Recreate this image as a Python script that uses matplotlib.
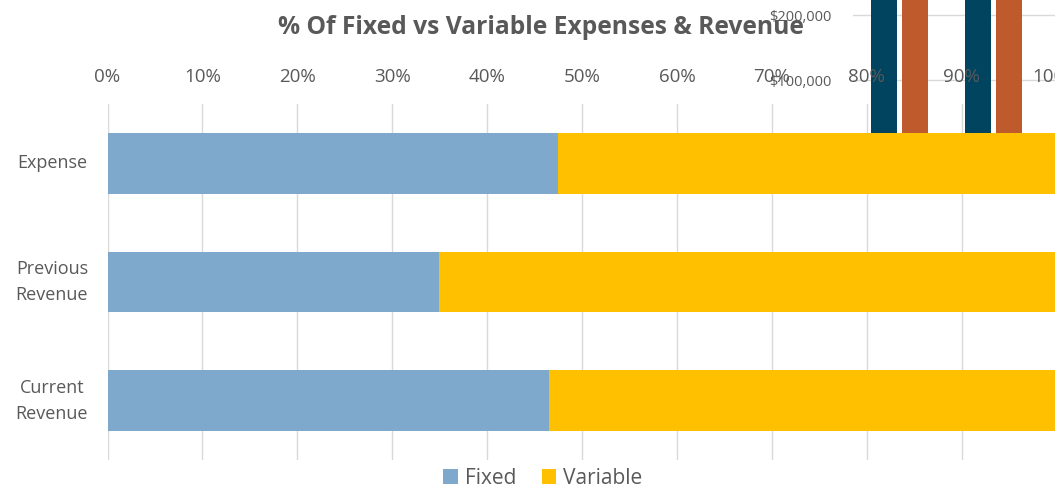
import matplotlib
matplotlib.use("Agg")
import matplotlib.pyplot as plt
from matplotlib.ticker import PercentFormatter, FuncFormatter

# Percentage split chart data
categories = ["Expense", "Previous\nRevenue", "Current\nRevenue"]
fixed_share = [0.475, 0.349, 0.465]
variable_share = [1 - v for v in fixed_share]
x_ticks = [i / 10 for i in range(11)]

# Neighbouring revenue column chart (partly visible behind)
rev_groups = ["A", "B"]
rev_series_1 = [320000, 320000]
rev_series_2 = [320000, 320000]
rev_ticks = [100000, 200000]

GRAY = "#595959"
GRID = "#D9D9D9"
BLUE = "#7FA9CC"
GOLD = "#FFC000"
NAVY = "#00445F"
RUST = "#BE5A2B"

plt.rcParams["font.family"] = ["Open Sans", "DejaVu Sans"]

W, H = 1055, 492
fig = plt.figure(figsize=(W / 100, H / 100), dpi=100)
fig.patch.set_facecolor("white")


def px_axes(left, top, right, bottom):
    return [left / W, 1 - bottom / H, (right - left) / W, (bottom - top) / H]


# Background column chart
ax2 = fig.add_axes(px_axes(853, 0, 1058.7, 145.5), zorder=0)
ax2.set_facecolor("none")
pos = list(range(len(rev_groups)))
bw = 0.28
ax2.bar([p - 0.165 for p in pos], rev_series_1, width=bw, color=NAVY, zorder=2)
ax2.bar([p + 0.165 for p in pos], rev_series_2, width=bw, color=RUST, zorder=2)
ax2.set_xlim(-0.5, 1.7)
ax2.set_ylim(0, 223800)
ax2.set_yticks(rev_ticks)
ax2.yaxis.set_major_formatter(FuncFormatter(lambda v, _: f"${v:,.0f}"))
ax2.yaxis.grid(True, color=GRID, linewidth=1)
ax2.set_axisbelow(True)
ax2.set_xticks([])
ax2.tick_params(axis="y", length=0, pad=15.5, labelsize=10.5, labelcolor=GRAY)
for s in ax2.spines.values():
    s.set_visible(False)

# Main stacked percentage bar chart
ax = fig.add_axes(px_axes(107.5, 104, 1056.5, 460), zorder=1)
ax.set_facecolor("none")
y = list(range(len(categories)))
ax.barh(y, fixed_share, height=0.51, color=BLUE, label="Fixed", zorder=2)
ax.barh(y, variable_share, left=fixed_share, height=0.51, color=GOLD,
        label="Variable", zorder=2)
ax.set_ylim(len(categories) - 0.5, -0.5)
ax.set_xlim(0, 1)
ax.set_xticks(x_ticks)
ax.xaxis.set_major_formatter(PercentFormatter(1.0, decimals=0))
ax.xaxis.tick_top()
ax.xaxis.grid(True, color=GRID, linewidth=1)
ax.set_axisbelow(True)
ax.set_yticks(y)
ax.set_yticklabels(categories, ha="center", va="center", linespacing=1.55)
ax.tick_params(axis="x", length=0, pad=13, labelsize=13.5, labelcolor=GRAY)
ax.tick_params(axis="y", length=0, pad=40, labelsize=13, labelcolor=GRAY)
for s in ax.spines.values():
    s.set_visible(False)

fig.text(541 / W, 1 - 27 / H, "% Of Fixed vs Variable Expenses & Revenue",
         ha="center", va="center", fontsize=17.7, fontweight="bold", color=GRAY)

handles, labels = ax.get_legend_handles_labels()
fig.legend(handles, labels, loc="center", bbox_to_anchor=(543 / W, 1 - 478 / H),
           ncol=2, frameon=False, fontsize=15, labelcolor=GRAY,
           handlelength=0.7, handleheight=0.7, handletextpad=0.35,
           columnspacing=1.2)

fig.savefig("out.png", dpi=100, facecolor="white")
